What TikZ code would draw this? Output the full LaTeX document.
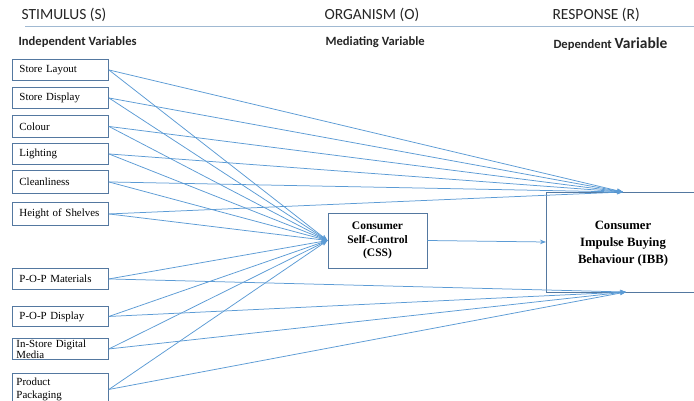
\documentclass[tikz,border=0pt]{standalone}
\usepackage{fontspec}
\setmainfont{Liberation Serif}
\newfontfamily\hdfont{Carlito}
\usetikzlibrary{arrows.meta}
\definecolor{lnblue}{RGB}{91,155,213}
\definecolor{boxblue}{RGB}{84,120,160}
\definecolor{rule}{RGB}{160,185,210}
\tikzset{
  varbox/.style={draw=boxblue, line width=0.9pt, minimum width=96pt, inner sep=0pt, anchor=north west, font=\fontsize{10.9}{12}\selectfont, align=left, text width=90pt},
  link/.style={draw=lnblue, line width=0.75pt, -{Stealth[length=6pt,width=4.5pt]}},
  hdr/.style={anchor=west, font=\hdfont\fontsize{15.5}{17}\selectfont, text=black!85},
  sub/.style={anchor=west, font=\hdfont\bfseries\fontsize{12.6}{14}\selectfont, text=black!85},
}
\begin{document}
\begin{tikzpicture}[x=1pt,y=-1pt]
\useasboundingbox (0,0) rectangle (694,401);
\clip (0,0) rectangle (694,401);
\fill[white] (0,0) rectangle (694,401);
% headers
\node[hdr] (hs) at (18,15) {STIMULUS (S)};
\node[hdr] (ho) at (321,15) {ORGANISM (O)};
\node[hdr] (hr) at (549,15) {RESPONSE (R)};
\coordinate (rl) at (25,26.5);
\coordinate (rr) at (694,26.5);
\draw[rule, line width=0.8pt] (rl) -- (rr);
\node[sub] (si) at (15,42) {Independent Variables};
\node[sub] (so) at (322,42) {Mediating Variable};
\node[sub] (sr) at (550,44) {Dependent {\fontsize{15.5}{17}\selectfont Variable}};
% left boxes
\node[varbox, minimum height=21pt] (b1) at (12,59) {\hspace*{4pt}Store Layout};
\node[varbox, minimum height=21pt] (b2) at (12,87) {\hspace*{4pt}Store Display};
\node[varbox, minimum height=22pt] (b3) at (12,115) {\hspace*{4pt}Colour};
\node[varbox, minimum height=21pt] (b4) at (12,143) {\hspace*{4pt}Lighting};
\node[varbox, minimum height=23pt] (b5) at (12,170) {\hspace*{4pt}Cleanliness};
\node[varbox, minimum height=23pt] (b6) at (12,202) {\hspace*{4pt}Height of Shelves};
\node[varbox, minimum height=21pt] (b7) at (12,268) {\hspace*{4pt}P-O-P Materials};
\node[varbox, minimum height=20pt] (b8) at (12,306) {\hspace*{4pt}P-O-P Display};
\node[varbox, minimum height=21pt, text width=96pt] (b9) at (12,338) {\rule[-4pt]{0pt}{0pt}\hspace*{4pt}In-Store Digital\\[-1pt]\hspace*{4pt}Media};
\node[varbox, minimum height=32pt, text width=96pt] (b10) at (12,373) {\hspace*{4pt}Product\\[1pt]\hspace*{4pt}Packaging};
% mediator and response
\node[draw=boxblue, line width=0.9pt, minimum width=99pt, minimum height=55pt, align=center, font=\bfseries\fontsize{11.5}{13.5}\selectfont] (css) at (377.5,240.5) {Consumer\\Self-Control\\(CSS)};
\node[draw=boxblue, line width=0.9pt, minimum width=160pt, minimum height=100pt, anchor=west] (ibb) at (546,242) {};
\node[align=center, font=\bfseries\fontsize{12.7}{17}\selectfont] (ibbt) at (623,244) {Consumer\\Impulse Buying\\Behaviour (IBB)};
\coordinate (top) at (623,192);
\coordinate (bot) at (626,292);
% connectors
\foreach \b in {b1,b2,b3,b4,b5,b6} {
  \draw[link] (\b.east) -- (top);
  \draw[link] (\b.east) -- (css.west);
}
\foreach \b in {b7,b8,b9,b10} {
  \draw[link] (\b.east) -- (bot);
  \draw[link] (\b.east) -- (css.west);
}
\draw[link] (css.east) -- (ibb.west);
\end{tikzpicture}
\end{document}
